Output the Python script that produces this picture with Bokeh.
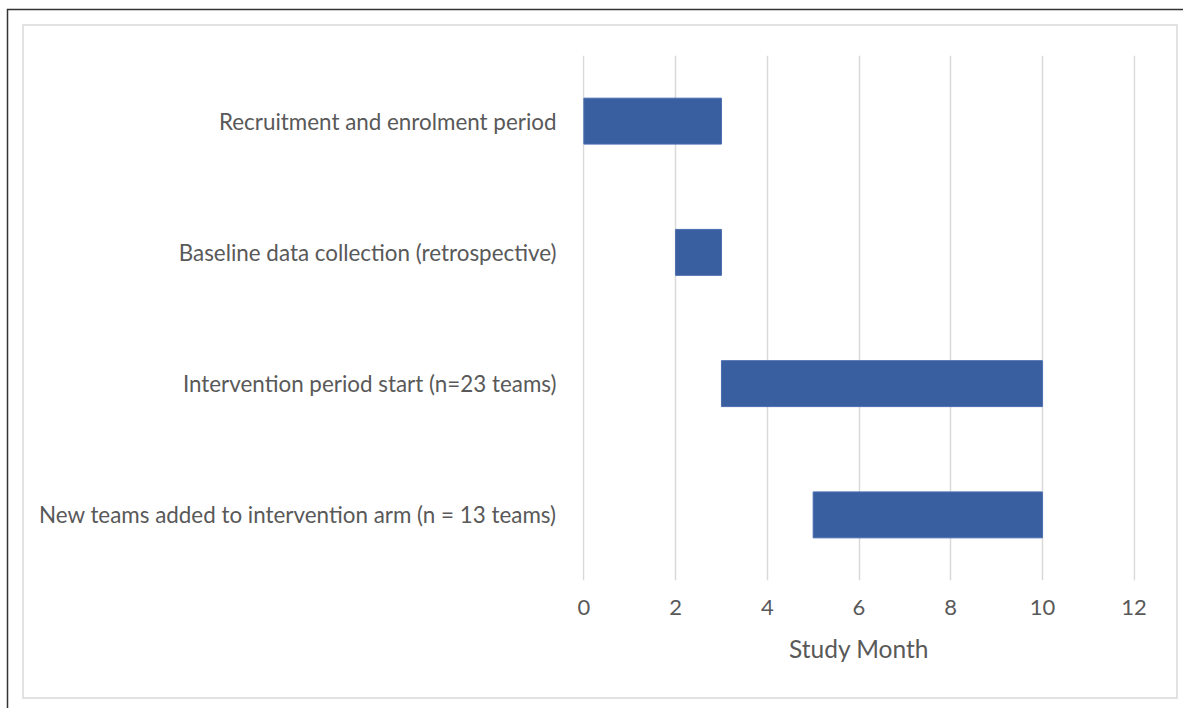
from urllib.parse import quote
from bokeh.plotting import figure
from bokeh.models import FactorRange, Range1d, FixedTicker, ColumnDataSource
from bokeh.embed import file_html
from bokeh.resources import INLINE

# Data
tasks = [
    "Recruitment and enrolment period",
    "Baseline data collection (retrospective)",
    "Intervention period start (n=23 teams)",
    "New teams added to intervention arm (n = 13 teams)",
]
start_month = [0, 2, 3, 5]
end_month = [3, 3, 10, 10]
x_ticks = [0, 2, 4, 6, 8, 10, 12]

FONT = "Lato"
TEXT_COLOR = "#595959"
W, H = 1183, 708

src = ColumnDataSource(dict(task=tasks, start=start_month, end=end_month))

p = figure(
    width=W, height=H,
    y_range=FactorRange(factors=list(reversed(tasks))),
    x_range=Range1d(-0.03, 12.03),
    output_backend="svg", toolbar_location=None,
    min_border_left=582, min_border_right=48,
    min_border_top=55, min_border_bottom=128,
)
p.outline_line_color = None
p.background_fill_color = "white"
p.border_fill_color = None

p.hbar(y="task", left="start", right="end", height=0.35, source=src,
       fill_color="#3A5FA0", line_color="#4A6DB0", line_width=1)

# x axis
p.xaxis.ticker = FixedTicker(ticks=x_ticks)
p.xaxis.axis_line_color = None
p.xaxis.major_tick_line_color = None
p.xaxis.minor_tick_line_color = None
p.xaxis.major_label_text_font = FONT
p.xaxis.major_label_text_font_size = "22px"
p.xaxis.major_label_text_color = TEXT_COLOR
p.xaxis.major_label_standoff = 13
p.xaxis.axis_label = "Study Month"
p.xaxis.axis_label_text_font = FONT
p.xaxis.axis_label_text_font_size = "24.5px"
p.xaxis.axis_label_text_font_style = "normal"
p.xaxis.axis_label_text_color = TEXT_COLOR
p.xaxis.axis_label_standoff = 16

# y axis
p.yaxis.axis_line_color = None
p.yaxis.major_tick_line_color = None
p.yaxis.minor_tick_line_color = None
p.yaxis.major_label_text_font = FONT
p.yaxis.major_label_text_font_size = "22.4px"
p.yaxis.major_label_text_color = TEXT_COLOR
p.yaxis.major_label_standoff = 20

# grid
p.ygrid.grid_line_color = None
p.xgrid.grid_line_color = "#D9D9D9"
p.xgrid.grid_line_width = 1.5

# page frames (outer dark edge and inner light chart border) as a CSS background
svg = (
    f"<svg xmlns='http://www.w3.org/2000/svg' width='{W}' height='{H}'>"
    "<rect width='100%' height='100%' fill='white'/>"
    f"<path d='M7.5 {H} V9.5 H{W}' fill='none' stroke='rgb(51,51,51)' stroke-width='1.5'/>"
    "<rect x='23' y='25' width='1154' height='673' fill='none' "
    "stroke='rgb(217,217,217)' stroke-width='1.5'/>"
    "</svg>"
)
p.styles = {
    "background-image": f'url("data:image/svg+xml,{quote(svg)}")',
    "background-repeat": "no-repeat",
}

open("out.html", "w").write(file_html(p, INLINE))
